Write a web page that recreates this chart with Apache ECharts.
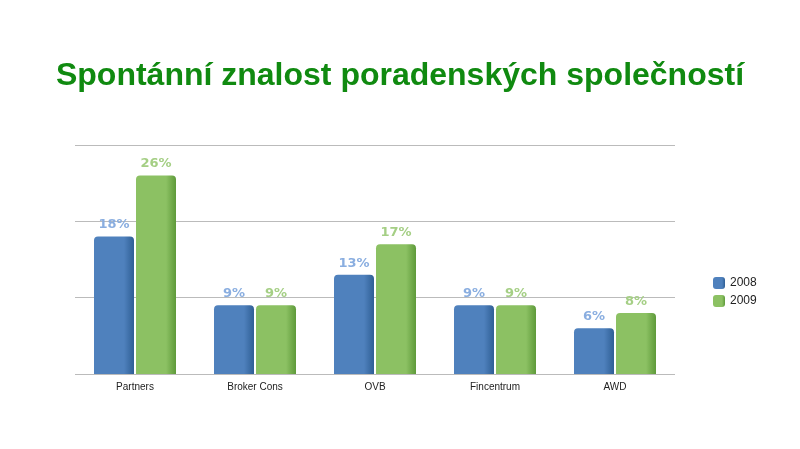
<!DOCTYPE html>
<html lang="cs">
<head>
<meta charset="UTF-8">
<title>Spontánní znalost poradenských společností</title>
<style>
  body { margin: 0; background: #fff; }
  #container { width: 800px; height: 449px; }
</style>
<script src="https://cdn.jsdelivr.net/npm/echarts@6/dist/echarts.min.js"></script>
</head>
<body>
<div id="container"></div>
<script>
var categories = ['Partners', 'Broker Cons', 'OVB', 'Fincentrum', 'AWD'];
var values2008 = [18, 9, 13, 9, 6];
var values2009 = [26, 9, 17, 9, 8];
var seriesNames = ['2008', '2009'];

var chart = echarts.init(document.getElementById('container'));

function barSeries(name, data, color, dark, labelColor) {
    return {
        name: name,
        type: 'bar',
        data: data,
        barWidth: 40,
        barGap: '5%',
        itemStyle: {
            color: new echarts.graphic.LinearGradient(0, 0, 1, 0, [
                { offset: 0, color: color },
                { offset: 0.75, color: color },
                { offset: 1, color: dark }
            ]),
            borderRadius: [4, 4, 0, 0]
        },
        label: {
            show: true,
            position: 'top',
            formatter: '{c}%',
            color: labelColor,
            fontSize: 13,
            fontWeight: 'bold',
            fontFamily: 'DejaVu Sans'
        }
    };
}

chart.setOption({
    backgroundColor: '#fff',
    title: {
        text: 'Spontánní znalost poradenských společností',
        left: 'center',
        top: 55,
        textStyle: { color: '#108a10', fontSize: 32, fontWeight: 'bold', fontFamily: 'Liberation Sans' }
    },
    legend: {
        data: seriesNames,
        orient: 'vertical',
        left: 708,
        top: 272,
        itemWidth: 12,
        itemHeight: 12,
        itemGap: 6,
        textStyle: { fontSize: 12, color: '#222' }
    },
    grid: { left: 75, right: 125, top: 145, bottom: 75 },
    xAxis: {
        type: 'category',
        data: categories,
        axisLine: { show: false },
        axisTick: { show: false },
        axisLabel: { fontSize: 10, color: '#222' }
    },
    yAxis: {
        type: 'value',
        min: 0,
        max: 30,
        interval: 10,
        axisLabel: { show: false },
        splitLine: { lineStyle: { color: '#bbb' } }
    },
    series: [
        barSeries('2008', values2008, '#4f81bd', '#2f5f95', '#8aaee0'),
        barSeries('2009', values2009, '#8cc163', '#5e9a3a', '#a5cf85')
    ]
});
</script>
</body>
</html>
